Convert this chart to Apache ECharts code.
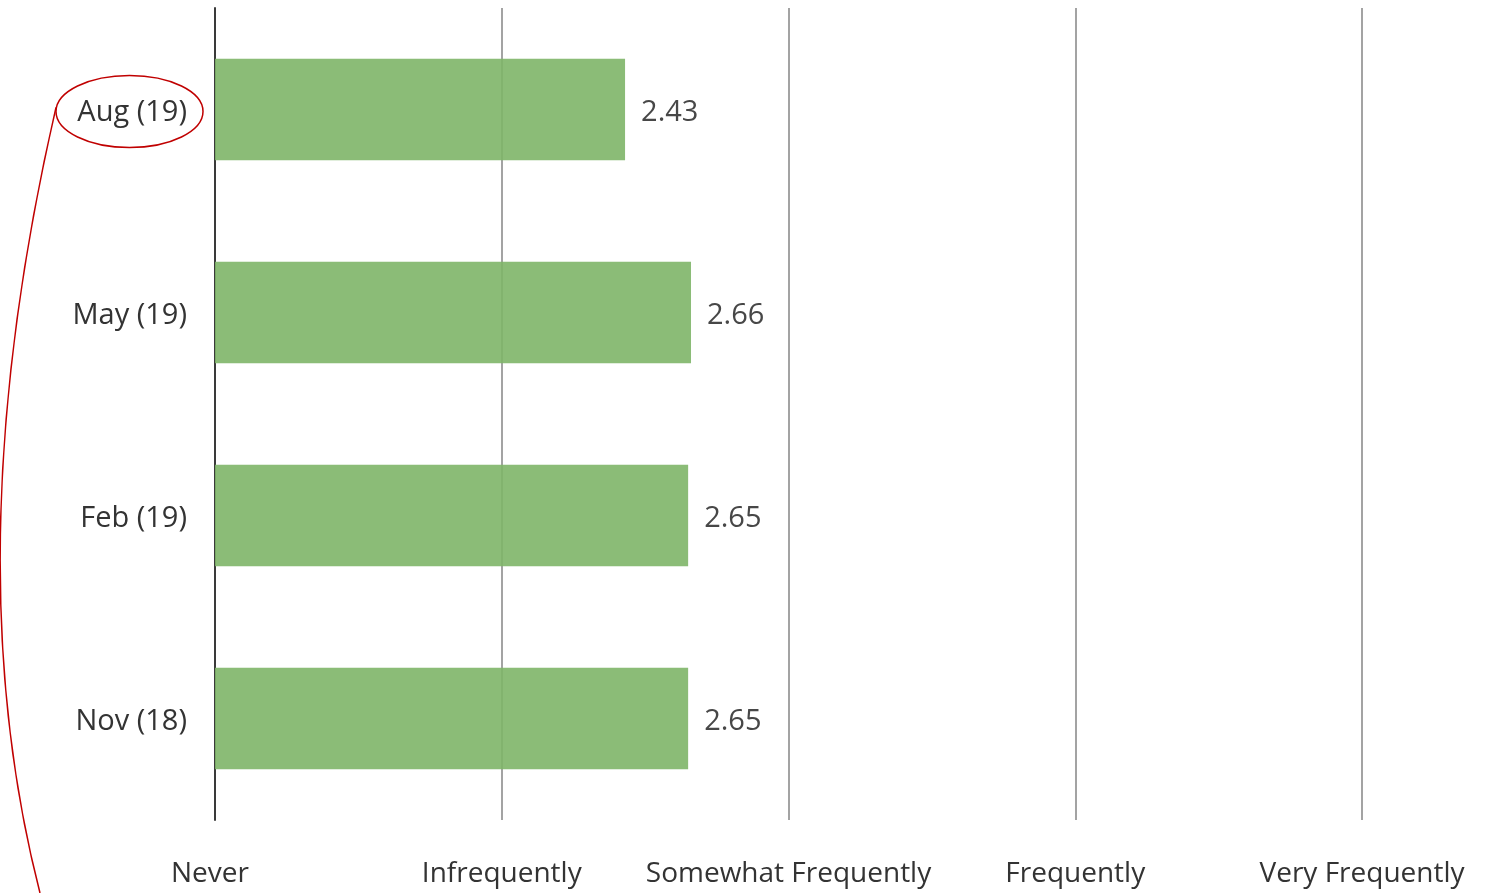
<!DOCTYPE html>
<html>
<head>
<meta charset="utf-8">
<script src="https://cdn.jsdelivr.net/npm/echarts@6/dist/echarts.min.js"></script>
<style>
  html, body { margin: 0; padding: 0; background: #fff; }
  #chart { width: 1491px; height: 893px; }
</style>
</head>
<body>
<div id="chart"></div>
<script>
// Survey waves, listed bottom to top as the category axis draws them
const waves = ['Nov (18)', 'Feb (19)', 'May (19)', 'Aug (19)'];
// Mean frequency score per wave (1 = Never … 5 = Very Frequently)
const meanScores = [2.65, 2.65, 2.66, 2.43];
// Names for the scale points 1..5
const scaleLabels = ['Never', 'Infrequently', 'Somewhat Frequently', 'Frequently', 'Very Frequently'];
// Wave that gets the red call-out ring
const highlightedWave = 'Aug (19)';

const FONT = '"Open Sans", Lato, sans-serif';
const chart = echarts.init(document.getElementById('chart'));

chart.setOption({
  animation: false,
  grid: { left: 215, right: 129, top: 8, bottom: 73, containLabel: false },
  xAxis: {
    type: 'value',
    min: 1,
    max: 5,
    interval: 1,
    axisLine: { show: false },
    axisTick: { show: false },
    splitLine: { show: true, lineStyle: { color: '#a3a3a3', width: 2 } },
    axisLabel: {
      margin: 40,
      color: '#333',
      fontFamily: FONT,
      fontSize: 28,
      formatter: v => {
        const name = scaleLabels[Math.round(v) - 1] || '';
        // the first scale point sits a touch left of its grid line
        return v === 1 ? '{first|' + name + '}' : name;
      },
      rich: {
        first: { fontFamily: FONT, fontSize: 28, color: '#333', padding: [0, 10, 3, 0] }
      }
    }
  },
  yAxis: {
    type: 'category',
    data: waves,
    axisLine: { show: true, lineStyle: { color: '#3a3a3a', width: 2 } },
    axisTick: { show: false },
    splitLine: { show: false },
    axisLabel: {
      margin: 28,
      color: '#333',
      fontFamily: FONT,
      fontSize: 29,
      verticalAlign: 'top',
      lineHeight: 6
    }
  },
  series: [{
    type: 'bar',
    data: meanScores,
    barWidth: '50%',
    itemStyle: { color: 'rgb(126,181,104)', opacity: 0.9 },
    label: {
      show: true,
      position: 'right',
      distance: 16,
      offset: [0, 3],
      color: '#333',
      fontFamily: FONT,
      fontSize: 29,
      formatter: p => p.value.toFixed(2)
    }
  }]
});

// Red call-out: ring around the highlighted wave label with a sweeping leader line
const cy = chart.convertToPixel({ yAxisIndex: 0 }, highlightedWave);
chart.setOption({
  graphic: [
    {
      type: 'ellipse',
      shape: { cx: 129.5, cy: cy + 2, rx: 73.5, ry: 36 },
      style: { fill: 'none', stroke: '#c00000', lineWidth: 1.5 },
      silent: true
    },
    {
      type: 'bezierCurve',
      shape: { x1: 56, y1: cy - 2, cpx1: -47, cpy1: 555, x2: 40, y2: 893 },
      style: { fill: 'none', stroke: '#c00000', lineWidth: 1.5 },
      silent: true
    }
  ]
});
</script>
</body>
</html>
